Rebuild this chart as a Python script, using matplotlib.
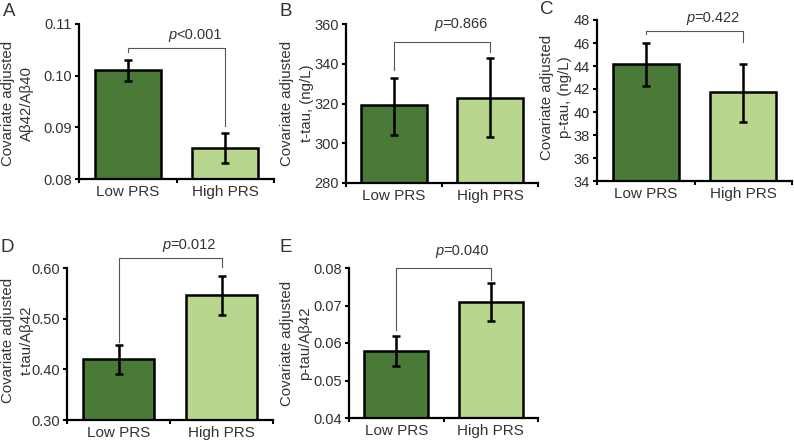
import matplotlib
matplotlib.use("Agg")
import matplotlib.pyplot as plt

plt.rcParams['font.family'] = ['Liberation Sans', 'DejaVu Sans']

W, H = 794, 440
categories = ["Low PRS", "High PRS"]
colors = ["#4a7a38", "#b9d68e"]

# Panel data
letters = ["A", "B", "C", "D", "E"]
ylabel_line1 = "Covariate adjusted"
ylabel_line2 = ["A\u03b242/A\u03b240", "t-tau, (ng/L)", "p-tau, (ng/L)",
                "t-tau/A\u03b242", "p-tau/A\u03b242"]
means_A = [0.101, 0.086]
lo_A = [0.099, 0.083]
hi_A = [0.103, 0.089]
means_B = [319, 323]
lo_B = [304, 303]
hi_B = [333, 343]
means_C = [44.2, 41.7]
lo_C = [42.3, 39.1]
hi_C = [46.0, 44.2]
means_D = [0.420, 0.546]
lo_D = [0.390, 0.507]
hi_D = [0.448, 0.585]
means_E = [0.058, 0.071]
lo_E = [0.054, 0.066]
hi_E = [0.062, 0.076]
yticks_A = [0.08, 0.09, 0.10, 0.11]
yticks_B = [280, 300, 320, 340, 360]
yticks_C = [34, 36, 38, 40, 42, 44, 46, 48]
yticks_D = [0.30, 0.40, 0.50, 0.60]
yticks_E = [0.04, 0.05, 0.06, 0.07, 0.08]
tickfmt = ["{:.2f}", "{:.0f}", "{:.0f}", "{:.2f}", "{:.2f}"]
pvals = ["<0.001", "=0.866", "=0.422", "=0.012", "=0.040"]
# bracket: top y, left leg bottom, right leg bottom, text y
brackets = [(0.1054, 0.1046, 0.0903, 0.1078),
            (351, 337, 346, 360),
            (47.05, 46.8, 46.1, 48.2),
            (0.62, 0.454, 0.602, 0.645),
            (0.080, 0.0635, 0.0768, 0.0845)]

means = [means_A, means_B, means_C, means_D, means_E]
los = [lo_A, lo_B, lo_C, lo_D, lo_E]
his = [hi_A, hi_B, hi_C, hi_D, hi_E]
yticks = [yticks_A, yticks_B, yticks_C, yticks_D, yticks_E]

# axes pixel boxes: x0, x1, ytop, ybottom
boxes = [(79, 274, 24, 179),
         (346, 538, 24, 183),
         (597, 792, 20, 181),
         (67, 273, 268, 420),
         (349, 538, 268, 418)]
letter_pos = [(9, 11), (286, 11), (547, 9), (7, 247), (286, 247)]
# ylabel line x centres and vertical centre (pixels)
ylab_pos = [(8, 27, 103), (287, 307, 103), (547, 565, 97), (8, 27, 340), (287, 305, 343)]

fig = plt.figure(figsize=(W / 100, H / 100), dpi=100)
txtc = "#333333"
for i in range(5):
    x0, x1, yt, yb = boxes[i]
    ax = fig.add_axes([x0 / W, 1 - yb / H, (x1 - x0) / W, (yb - yt) / H])
    ax.patch.set_alpha(0)
    xs = [0.5, 1.5]
    m = means[i]
    yerr = [[m[k] - los[i][k] for k in range(2)], [his[i][k] - m[k] for k in range(2)]]
    ax.bar(xs, m, width=0.68, color=colors, edgecolor="black", linewidth=1.8, zorder=2)
    ax.errorbar(xs, m, yerr=yerr, fmt="none", ecolor="black", elinewidth=1.8,
                capsize=3.2, capthick=1.8, zorder=3)
    yt_ = yticks[i]
    ax.set_ylim(yt_[0], yt_[-1])
    ax.set_xlim(0, 2)
    ax.set_yticks(yt_)
    ax.set_yticklabels([tickfmt[i].format(v) for v in yt_], fontsize=10.5, color=txtc)
    ax.set_xticks([0, 1, 2])
    ax.set_xticklabels([])
    ax.set_xticks(xs, minor=True)
    ax.set_xticklabels(categories, minor=True, fontsize=11, color=txtc)
    ax.tick_params(axis="x", which="minor", length=0, pad=4)
    ax.tick_params(axis="x", which="major", direction="out", length=3, width=1.5)
    ax.tick_params(axis="y", direction="out", length=3, width=1.5, pad=2)
    for s in ["top", "right"]:
        ax.spines[s].set_visible(False)
    for s in ["left", "bottom"]:
        ax.spines[s].set_linewidth(1.6)
    bt, ll, rl, ty = brackets[i]
    ax.plot([0.5, 0.5, 1.5, 1.5], [ll, bt, bt, rl], color="#555555", lw=0.8,
            clip_on=False, zorder=1)
    ax.text(1.0, ty, "p", fontsize=10.5, color=txtc, ha="right",
            va="center", style="italic", clip_on=False)
    ax.text(1.0, ty, pvals[i], fontsize=10.5, color=txtc, ha="left", va="center",
            clip_on=False)
    lx1, lx2, ly = ylab_pos[i]
    fig.text(lx1 / W, 1 - ly / H, ylabel_line1, rotation=90, fontsize=10.8, color=txtc,
             ha="center", va="center")
    fig.text(lx2 / W, 1 - ly / H, ylabel_line2[i], rotation=90, fontsize=10.8, color=txtc,
             ha="center", va="center")
    lx, ly = letter_pos[i]
    fig.text(lx / W, 1 - ly / H, letters[i], fontsize=13.5, color=txtc, ha="center",
             va="center")

fig.savefig("out.png", dpi=100)
